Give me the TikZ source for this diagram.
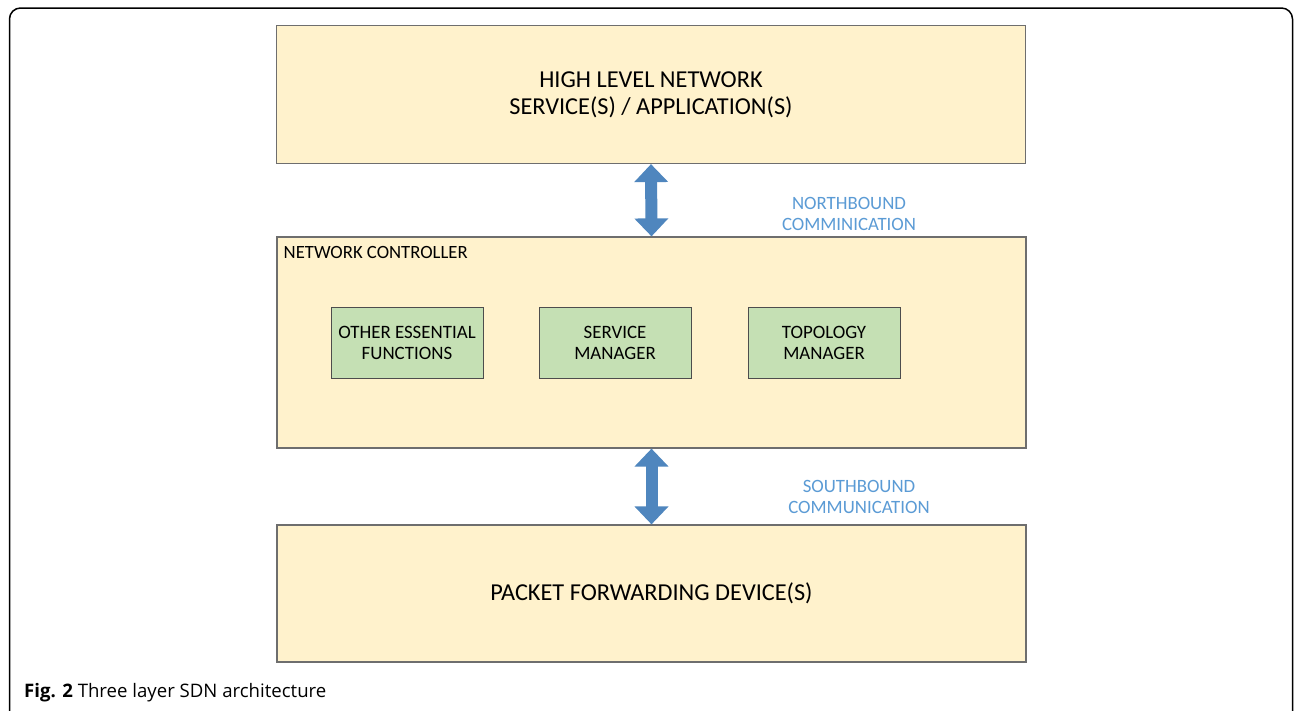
\documentclass[tikz,border=0pt]{standalone}
\usepackage{fontspec}
\setmainfont{Carlito}
\newfontfamily\capfont{Open Sans}
\usetikzlibrary{arrows.meta}
\definecolor{layerfill}{HTML}{FFF2CC}
\definecolor{layerdraw}{HTML}{6E6E6E}
\definecolor{modfill}{HTML}{C5E0B4}
\definecolor{moddraw}{HTML}{4D4D4D}
\definecolor{arrowblue}{HTML}{4F86BE}
\definecolor{labelblue}{HTML}{5B9BD5}
\tikzset{
  layer/.style={draw=layerdraw, fill=layerfill, line width=1.2pt, minimum width=749pt, inner sep=0pt, align=center, font=\fontsize{24.3}{27}\selectfont},
  module/.style={draw=moddraw, fill=modfill, line width=1pt, minimum width=152pt, minimum height=71pt, inner sep=0pt, align=center, font=\fontsize{18.9}{21}\selectfont},
  bus/.style={line width=12pt, draw=arrowblue, {Triangle[width=33pt,length=18pt]}-{Triangle[width=33pt,length=18pt]}},
  buslabel/.style={text=labelblue, align=center, font=\fontsize{18.8}{21}\selectfont},
}
\begin{document}
\begin{tikzpicture}[x=1pt,y=-1pt]
\useasboundingbox (0,0) rectangle (1295,710);
\fill[white] (0,0) rectangle (1295,710);
% outer frame
\draw[line width=1.5pt, rounded corners=11pt] (9.5,712) -- (9.5,8) -- (1292.5,8) -- (1292.5,712);
% layers
\node[layer, minimum height=138pt] (app) at (651,94.5) {HIGH LEVEL NETWORK\\SERVICE(S) / APPLICATION(S)};
\node[layer, minimum height=211pt] (ctrl) at (651.5,342.5) {};
\node[layer, minimum height=137pt] (dev) at (651.5,593.5) {PACKET FORWARDING DEVICE(S)};
\node[anchor=west, inner sep=0pt, font=\fontsize{18.7}{21}\selectfont] (ctrllabel) at (283.5,252.5) {NETWORK CONTROLLER};
% modules
\node[module] (other) at (407,342.5) {OTHER ESSENTIAL\\FUNCTIONS};
\node[module] (svc) at (615,342.5) {SERVICE\\MANAGER};
\node[module] (topo) at (824,342.5) {TOPOLOGY\\MANAGER};
% buses
\draw[bus] (app.south) -- (ctrl.north);
\draw[bus] (ctrl.south) -- (dev.north);
\node[buslabel] (nlabel) at (849,214) {NORTHBOUND\\COMMINICATION};
\node[buslabel] (slabel) at (859,497) {SOUTHBOUND\\COMMUNICATION};
% caption
\node[anchor=west, inner sep=0pt, font=\capfont\fontsize{18.6}{21}\selectfont] (caption) at (24,693) {\textbf{Fig. 2} Three layer SDN architecture};
\end{tikzpicture}
\end{document}
